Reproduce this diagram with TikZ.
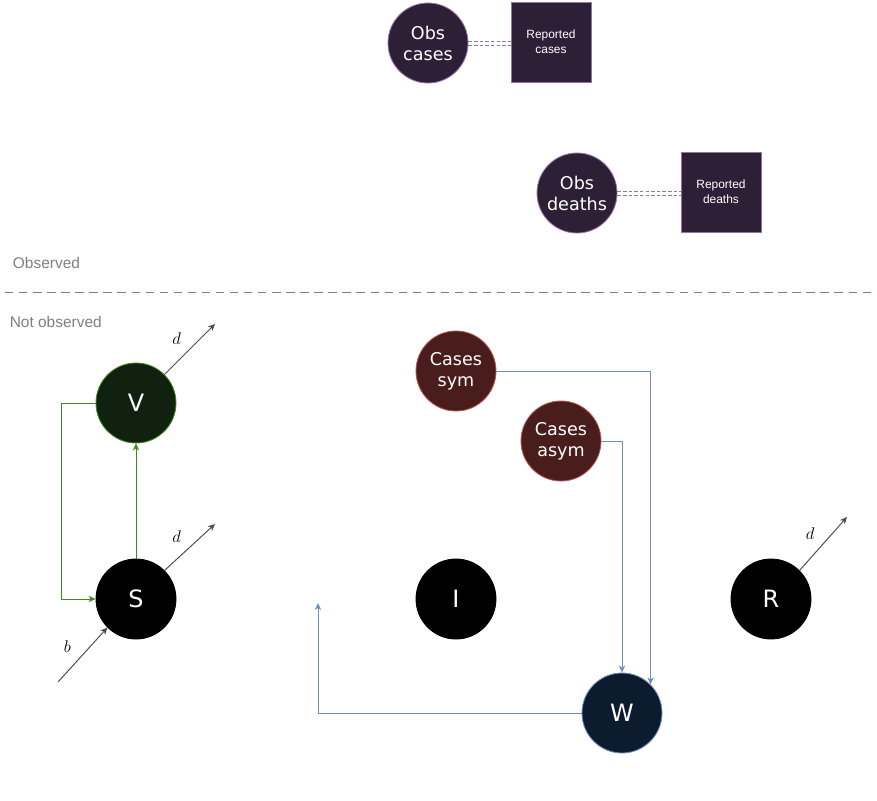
\documentclass[tikz,border=0pt]{standalone}
\usepackage{fontspec}
\usetikzlibrary{arrows.meta}
\newfontfamily\verd{DejaVu Sans}
\newfontfamily\helv{Liberation Sans}
\definecolor{obsfill}{HTML}{2D1F36}
\definecolor{obsline}{HTML}{9673A6}
\definecolor{vfill}{HTML}{10220F}
\definecolor{vline}{HTML}{3F8A1F}
\definecolor{casefill}{HTML}{4A1D1D}
\definecolor{caseline}{HTML}{B85450}
\definecolor{wfill}{HTML}{0D1B2E}
\definecolor{wline}{HTML}{6C8EBF}
\definecolor{labelgrey}{HTML}{7F7F7F}
\definecolor{arrowgrey}{HTML}{4D4D4D}
\tikzset{
    state/.style={circle, minimum size=2cm, inner sep=0pt, line width=0.6pt, fill=black, draw=black, text=white, font=\verd\fontsize{17}{20}\selectfont},
    obsstate/.style={state, fill=obsfill, draw=obsline, align=center, font=\verd\fontsize{12.5}{15}\selectfont},
    casestate/.style={obsstate, fill=casefill, draw=caseline},
    databox/.style={rectangle, minimum size=2cm, inner sep=0pt, line width=0.6pt, fill=obsfill, draw=obsline, text=white, align=center, font=\helv\fontsize{8.5}{10.5}\selectfont},
    link/.style={obsline, line width=0.6pt, dash pattern=on 2.5pt off 1.5pt},
    flow/.style={-{Stealth[length=5pt, width=4.5pt, inset=1.5pt]}, line width=0.7pt},
    rate/.style={font=\fontsize{12}{14}\selectfont, inner sep=1pt, black}
}
\begin{document}
\begin{tikzpicture}
    \useasboundingbox (0,0) rectangle (21.925,-20.025);
    % === Parte osservata ===
    \node[obsstate] (obscases) at (10.7,-1.075) {Obs\\cases};
    \node[databox] (repcases) at (13.775,-1.05) {Reported\\cases};
    \node[obsstate] (obsdeaths) at (14.425,-4.825) {Obs\\deaths};
    \node[databox] (repdeaths) at (18.025,-4.8) {Reported\\deaths};
    % doppia linea tratteggiata
    \draw[link] ([yshift=1.4pt]obscases.east) -- ([yshift=1.4pt]obscases.east -| repcases.west);
    \draw[link] ([yshift=-1.4pt]obscases.east) -- ([yshift=-1.4pt]obscases.east -| repcases.west);
    \draw[link] ([yshift=1.4pt]obsdeaths.east) -- ([yshift=1.4pt]obsdeaths.east -| repdeaths.west);
    \draw[link] ([yshift=-1.4pt]obsdeaths.east) -- ([yshift=-1.4pt]obsdeaths.east -| repdeaths.west);

    % === Separatore ===
    \node[anchor=west, text=labelgrey, font=\helv\fontsize{11}{13}\selectfont] (obslabel) at (0.2,-6.575) {Observed};
    \coordinate (sepleft) at (0.125,-7.3);
    \coordinate (sepright) at (21.925,-7.3);
    \draw[labelgrey, line width=0.5pt, dash pattern=on 6pt off 4pt] (sepleft) -- (sepright);
    \node[anchor=west, text=labelgrey, font=\helv\fontsize{11}{13}\selectfont] (notobslabel) at (0.12,-8.05) {Not observed};

    % === Compartimenti ===
    \node[state, fill=vfill, draw=vline] (V) at (3.4,-10.075) {V};
    \node[state] (S) at (3.4,-14.975) {S};
    \node[state] (I) at (11.4,-14.975) {I};
    \node[state] (R) at (19.275,-14.975) {R};
    \node[state, fill=wfill, draw=wline] (W) at (15.55,-17.825) {W};
    \node[casestate] (sym) at (11.4,-9.275) {Cases\\sym};
    \node[casestate] (asym) at (14.025,-11.025) {Cases\\asym};

    % Nascite e morti
    \coordinate (Vout) at (5.375,-8.1);
    \coordinate (Sout) at (5.375,-13.1);
    \coordinate (Rout) at (21.175,-12.925);
    \coordinate (Sin) at (1.45,-17.05);
    \draw[flow, arrowgrey] (V.45) -- (Vout) node[rate, midway, above left, xshift=-5pt, yshift=2pt] {$d$};
    \draw[flow, arrowgrey] (S.45) -- (Sout) node[rate, midway, above left, xshift=-5pt, yshift=2pt] {$d$};
    \draw[flow, arrowgrey] (R.45) -- (Rout) node[rate, midway, above left, xshift=-5pt, yshift=2pt] {$d$};
    \draw[flow, arrowgrey] (Sin) -- (S.225) node[rate, midway, above left, xshift=-7pt] {$b$};

    % Vaccinazione
    \draw[flow, vline] (S.north) -- (V.south);
    \draw[flow, vline] (V.west) -- ++(-0.85,0) |- (S.west);

    % Acque reflue
    \coordinate (Wback) at (7.95,-15.075);
    \draw[flow, wline] (sym.east) -| (W.45);
    \draw[flow, wline] (asym.east) -| (W.north);
    \draw[flow, wline] (W.west) -| (Wback);
\end{tikzpicture}
\end{document}
